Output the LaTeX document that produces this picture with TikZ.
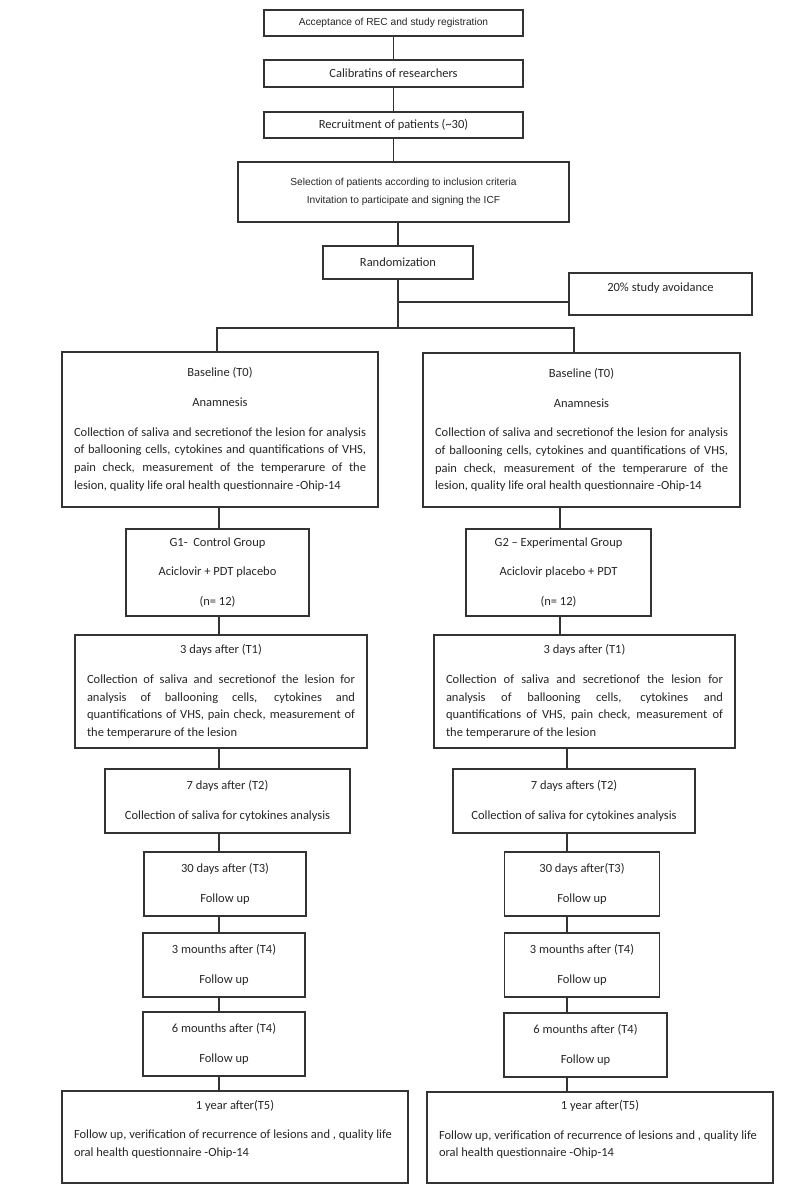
\documentclass[tikz,border=0pt]{standalone}
\usepackage{fontspec}
\setmainfont{Carlito}
\newfontfamily\arialfont{Liberation Sans}
\usepackage{tikz}
\usetikzlibrary{positioning}
\tikzstyle{box} = [draw=black!80, line width=1.1pt, inner xsep=12pt, inner ysep=0pt, text=black!85, font=\fontsize{12.5}{17.7}\selectfont, align=center]
\tikzstyle{para} = [box, align=justify, execute at begin node={\parindent=0pt\parskip=12pt}]
\tikzstyle{arialbox} = [box, font=\arialfont\fontsize{10.2}{18}\selectfont]
\tikzstyle{line} = [draw=black!80, line width=1.1pt]

\begin{document}
\begin{tikzpicture}[x=1pt, y=-1pt]
				\path[use as bounding box, fill=white] (0,0) rectangle (800,1191);
				\coordinate (axLt) at (217,0);
				\coordinate (axL) at (219,0);
				\coordinate (axRt) at (574,0);
				\coordinate (axRg) at (560,0);
				\coordinate (axR) at (567,0);
				\coordinate (spl) at (398,328);
				\coordinate (brk) at (398,302);
				\node[arialbox, minimum width=259pt, minimum height=26pt] (acc) at (393.5,23) {Acceptance of REC and study registration};
				\node[box, minimum width=259pt, minimum height=27pt] (cal) at (393.5,73.5) {Calibratins of researchers};
				\node[box, minimum width=259pt, minimum height=26pt] (rec) at (393.5,125) {Recruitment of patients (\textasciitilde30)};
				\node[arialbox, minimum width=331pt, minimum height=60pt] (sel) at (403.5,192) {Selection of patients according to inclusion criteria\\Invitation to participate and signing the ICF};
				\node[box, minimum width=150pt, minimum height=33pt] (ran) at (398,262.5) {Randomization};
				\node[box, minimum width=183pt, minimum height=42pt, text depth=14pt] (avo) at (660.5,294) {20\% study avoidance};
				\node[para, text width=292pt, minimum height=155pt] (baseL) at (220,429.5) {{\centering Baseline (T0)\par Anamnesis\par}Collection of saliva and secretionof the lesion for analysis\linebreak of ballooning cells, cytokines and quantifications of VHS,\linebreak pain check, measurement of the temperarure of the\linebreak lesion, quality life oral health questionnaire -Ohip-14};
				\node[para, text width=293pt, minimum height=154pt] (baseR) at (581.5,430) {{\centering Baseline (T0)\par Anamnesis\par}Collection of saliva and secretionof the lesion for analysis\linebreak of ballooning cells, cytokines and quantifications of VHS,\linebreak pain check, measurement of the temperarure of the\linebreak lesion, quality life oral health questionnaire -Ohip-14};
				\node[box, minimum width=183pt, minimum height=87pt] (g1) at (217.5,572.5) {G1-\ \ Control Group\\[12pt]Aciclovir + PDT placebo\\[12pt](n= 12)};
				\node[box, minimum width=185pt, minimum height=87pt] (g2) at (558.5,572.5) {G2 -- Experimental Group\\[12pt]Aciclovir placebo + PDT\\[12pt](n= 12)};
				\node[para, text width=268pt, minimum height=113pt] (tdaL) at (221,691.5) {{\centering 3 days after (T1)\par}Collection of saliva and secretionof the lesion for\linebreak analysis of ballooning cells, cytokines and\linebreak quantifications of VHS, pain check, measurement of\linebreak the temperarure of the lesion};
				\node[para, text width=277pt, minimum height=113pt] (tdaR) at (584.5,691.5) {{\centering 3 days after (T1)\par}Collection of saliva and secretionof the lesion for\linebreak analysis of ballooning cells, cytokines and\linebreak quantifications of VHS, pain check, measurement of\linebreak the temperarure of the lesion};
				\node[box, minimum width=245pt, minimum height=64pt] (tdbL) at (227.5,801) {7 days after (T2)\\[12pt]Collection of saliva for cytokines analysis};
				\node[box, minimum width=242pt, minimum height=64pt] (tdbR) at (574,801) {7 days afters (T2)\\[12pt]Collection of saliva for cytokines analysis};
				\node[box, minimum width=162pt, minimum height=64pt] (tdcL) at (225,884) {30 days after (T3)\\[12pt]Follow up};
				\node[box, minimum width=155pt, minimum height=64pt] (tdcR) at (582,884) {30 days after(T3)\\[12pt]Follow up};
				\node[box, minimum width=162pt, minimum height=64pt] (mthL) at (224,965) {3 mounths after (T4)\\[12pt]Follow up};
				\node[box, minimum width=155pt, minimum height=64pt] (mthR) at (582,965) {3 mounths after (T4)\\[12pt]Follow up};
				\node[box, minimum width=162pt, minimum height=64pt] (msxL) at (224,1044) {6 mounths after (T4)\\[12pt]Follow up};
				\node[box, minimum width=163pt, minimum height=64pt] (msxR) at (585.5,1045) {6 mounths after (T4)\\[12pt]Follow up};
				\node[para, text width=322pt, minimum height=92pt] (yrL) at (235,1137) {{\centering 1 year after(T5)\par}Follow up, verification of recurrence of lesions and , quality life\newline oral health questionnaire -Ohip-14\par\vspace{-12pt}\mbox{}};
				\node[para, text width=322pt, minimum height=91pt] (yrR) at (600,1137.5) {{\centering 1 year after(T5)\par}Follow up, verification of recurrence of lesions and , quality life\newline oral health questionnaire -Ohip-14\par\vspace{-12pt}\mbox{}};
				\draw[line] (acc) -- (cal);
				\draw[line] (cal) -- (rec);
				\draw[line] (rec.south) -- (rec.south |- sel.north);
				\draw[line] (ran.north |- sel.south) -- (ran.north);
				\draw[line] (ran.south) -- (spl);
				\draw[line] (brk) -- (brk -| avo.west);
				\draw[line] (baseL.north -| axLt) |- (spl) -| (baseR.north -| axRt);
				\draw[line] (baseR.south -| axRg) -- (g2.north -| axRg);
				\draw[line] (g2.south -| axRg) -- (tdaR.north -| axRg);
				\foreach \a/\b in {baseL/g1, g1/tdaL, tdaL/tdbL, tdbL/tdcL, tdcL/mthL, mthL/msxL, msxL/yrL}
					\draw[line] (\a.south -| axL) -- (\b.north -| axL);
				\foreach \a/\b in {tdaR/tdbR, tdbR/tdcR, tdcR/mthR, mthR/msxR, msxR/yrR}
					\draw[line] (\a.south -| axR) -- (\b.north -| axR);
			\end{tikzpicture}
\end{document}
